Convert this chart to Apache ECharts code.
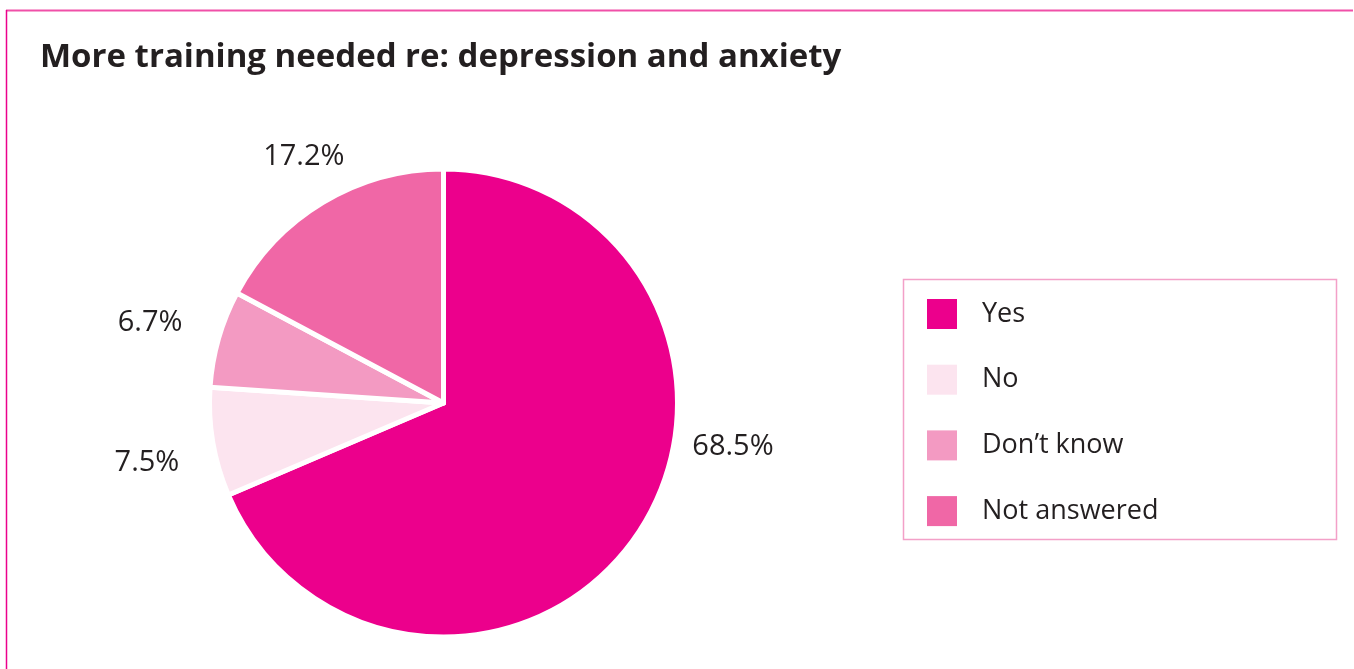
<!DOCTYPE html>
<html>
<head>
<meta charset="utf-8">
<script src="https://cdn.jsdelivr.net/npm/echarts@6/dist/echarts.min.js"></script>
<style>
  html, body { margin: 0; padding: 0; background: #ffffff; }
  #chart { width: 1354px; height: 669px; }
</style>
</head>
<body>
<div id="chart"></div>
<script>
// Survey answers (percent of respondents)
const categories = ['Yes', 'No', 'Don\u2019t know', 'Not answered'];
const shares = [68.5, 7.5, 6.7, 17.2];
const sliceColors = ['#ec008c', '#fce4ef', '#f39ac2', '#f067a6'];

// Pie geometry (pixels)
const CX = 443.5, CY = 403, R = 234;
// Where each value label sits: distance from centre and angle (deg clockwise from 12 o'clock)
const labelPlacement = [
  { dist: 292.8, angle: 98.6 },
  { dist: 302.5, angle: 258.6 },
  { dist: 304.2, angle: 285.3 },
  { dist: 282.8, angle: 330.4 }
];

const textColor = '#231f20';
const font = '"Open Sans", "Noto Sans", sans-serif';

const chart = echarts.init(document.getElementById('chart'), null, { renderer: 'canvas' });

chart.setOption({
  animation: false,
  backgroundColor: '#ffffff',
  title: {
    text: 'More training needed re: depression and anxiety',
    left: 40 - 5,
    top: 36,
    textStyle: { fontFamily: font, fontWeight: 'bold', fontSize: 33, color: textColor }
  },
  graphic: [
    // frame: top rule and left rule
    { type: 'line', shape: { x1: 6, y1: 10.5, x2: 1353, y2: 10.5 }, style: { stroke: '#f050a8', lineWidth: 2 } },
    { type: 'line', shape: { x1: 6.5, y1: 10, x2: 6.5, y2: 669 }, style: { stroke: '#ec008c', lineWidth: 1.5 } },
    // legend box
    { type: 'rect', shape: { x: 903.5, y: 279.5, width: 433, height: 260 }, style: { fill: 'none', stroke: '#f3a0c8', lineWidth: 1.5 } }
  ],
  legend: {
    orient: 'vertical',
    left: 927,
    top: 299,
    padding: 0,
    itemWidth: 30,
    itemHeight: 30,
    itemGap: 35.7,
    icon: 'rect',
    selectedMode: false,
    itemStyle: { borderWidth: 0 },
    textStyle: { fontFamily: font, fontSize: 27, color: textColor, padding: [0, 0, 0, 20] },
    data: categories
  },
  series: [{
    type: 'pie',
    center: [CX, CY],
    radius: [0, R],
    startAngle: 90,
    clockwise: true,
    avoidLabelOverlap: false,
    itemStyle: { borderColor: '#ffffff', borderWidth: 5 },
    label: {
      show: true,
      position: 'outside',
      formatter: p => p.value.toFixed(1) + '%',
      fontFamily: font,
      fontSize: 29,
      color: textColor
    },
    labelLine: { show: false },
    labelLayout: function (params) {
      const pl = labelPlacement[params.dataIndex];
      const a = pl.angle * Math.PI / 180;
      return {
        x: CX + pl.dist * Math.sin(a),
        y: CY - pl.dist * Math.cos(a),
        align: 'center',
        verticalAlign: 'middle'
      };
    },
    emphasis: { disabled: true },
    data: categories.map((name, i) => ({ name, value: shares[i], itemStyle: { color: sliceColors[i] } }))
  }]
});
</script>
</body>
</html>
